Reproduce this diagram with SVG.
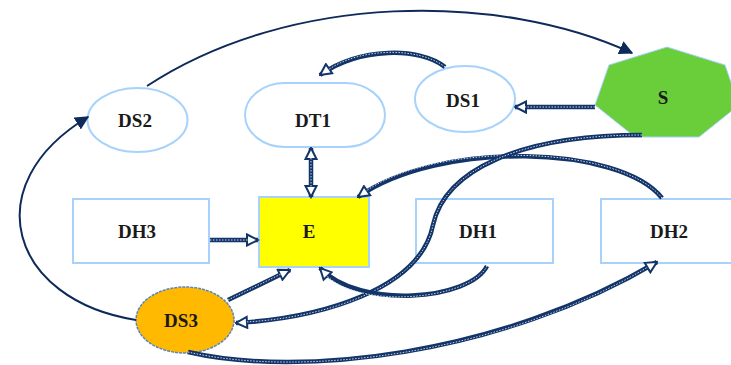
<svg xmlns="http://www.w3.org/2000/svg" width="731" height="365" viewBox="0 0 731 365">
<style>
.lbl{font-family:"Liberation Serif",serif;font-weight:bold;font-size:19px;fill:#1a1a1a;text-anchor:middle}
.nd{fill:#fff;stroke:#a6d2fb;stroke-width:2}
.thin{fill:none;stroke:#0d2a5a;stroke-width:2}
.rope{fill:none;stroke:#123468;stroke-width:4.5}
.core{fill:none;stroke:#c9d6ea;stroke-width:1;stroke-dasharray:1.5 1.5}
</style>
<defs>
<marker id="fa" viewBox="0 0 10 10" refX="9" refY="5" markerWidth="14" markerHeight="14" markerUnits="userSpaceOnUse" orient="auto">
<path d="M0,0 L10,5 L0,10 Z" fill="#0d2a5a"/>
</marker>
<marker id="ha" viewBox="0 0 14 14" refX="12.5" refY="7" markerWidth="14" markerHeight="14" markerUnits="userSpaceOnUse" orient="auto">
<path d="M1.5,1.5 L12.5,7 L1.5,12.5 Z" fill="#fff" stroke="#123468" stroke-width="2"/>
</marker>
<marker id="hs" viewBox="0 0 14 14" refX="1.5" refY="7" markerWidth="14" markerHeight="14" markerUnits="userSpaceOnUse" orient="auto">
<path d="M12.5,1.5 L1.5,7 L12.5,12.5 Z" fill="#fff" stroke="#123468" stroke-width="2"/>
</marker>
</defs>
<g id="nodes">
<g id="DS2"><ellipse class="nd" cx="137.5" cy="120" rx="50" ry="32"/><text class="lbl" x="135" y="127">DS2</text></g>
<g id="DT1"><rect class="nd" x="245" y="83" width="140" height="64" rx="40" ry="32"/><text class="lbl" x="313" y="127">DT1</text></g>
<g id="DS1"><ellipse class="nd" cx="465" cy="99" rx="50" ry="33"/><text class="lbl" x="463" y="107">DS1</text></g>
<g id="S"><polygon points="667,47 725,65 739,105 699,137 635,137 595,105 609,65" fill="#6acd3a" stroke="#a6d2fb" stroke-width="1"/><text class="lbl" x="663" y="104">S</text></g>
<g id="DH3"><rect class="nd" x="73" y="199" width="136" height="64"/><text class="lbl" x="137" y="238">DH3</text></g>
<g id="E"><rect x="259" y="197" width="110" height="70" fill="#ffff00" stroke="#a6d2fb" stroke-width="2"/><text class="lbl" x="309" y="238">E</text></g>
<g id="DH1"><rect class="nd" x="416" y="199" width="137" height="64"/><text class="lbl" x="478" y="238">DH1</text></g>
<g id="DH2"><rect class="nd" x="601" y="199" width="140" height="64"/><text class="lbl" x="669" y="238">DH2</text></g>
<g id="DS3"><ellipse cx="185" cy="320" rx="49" ry="33" fill="#ffb900" stroke="#5b86b8" stroke-width="1.5" stroke-dasharray="3 1"/><text class="lbl" x="181" y="327">DS3</text></g>
</g>
<g id="connectors">
<path class="thin" d="M147,86 C 290,-8 500,-8 632,53" marker-end="url(#fa)"/>
<path class="thin" d="M136,320 C 10,300 -25,185 88,117" marker-end="url(#fa)"/>
<path class="rope" d="M595,107 L515,107" marker-end="url(#ha)"/>
<path class="core" d="M595,107 L525,107"/>
<path class="rope" d="M445,67 C 420,47 360,47 320,75" marker-end="url(#ha)"/>
<path class="core" d="M445,67 C 420,47 360,47 328,70"/>
<path class="rope" d="M311,148 L311,197" marker-start="url(#hs)" marker-end="url(#ha)"/>
<path class="core" d="M311,158 L311,187"/>
<path class="rope" d="M210,240 L258,240" marker-end="url(#ha)"/>
<path class="core" d="M210,240 L248,240"/>
<path class="rope" d="M228,300 L290,270" marker-end="url(#ha)"/>
<path class="core" d="M228,300 L281,274"/>
<path class="rope" d="M662,198 C 620,145 440,140 358,197" marker-end="url(#ha)"/>
<path class="core" d="M662,198 C 620,145 440,140 366,191"/>
<path class="rope" d="M642,135 C 520,135 445,170 433,225 C 420,290 320,318 236,323" marker-end="url(#ha)"/>
<path class="core" d="M642,135 C 520,135 445,170 433,225 C 420,290 320,318 246,322"/>
<path class="rope" d="M487,266 C 470,300 360,310 320,268" marker-end="url(#ha)"/>
<path class="core" d="M487,266 C 470,300 360,310 326,275"/>
<path class="rope" d="M188,352 C 300,378 500,355 657,262" marker-end="url(#ha)"/>
<path class="core" d="M188,352 C 300,378 500,355 648,267"/>
</g>
</svg>
